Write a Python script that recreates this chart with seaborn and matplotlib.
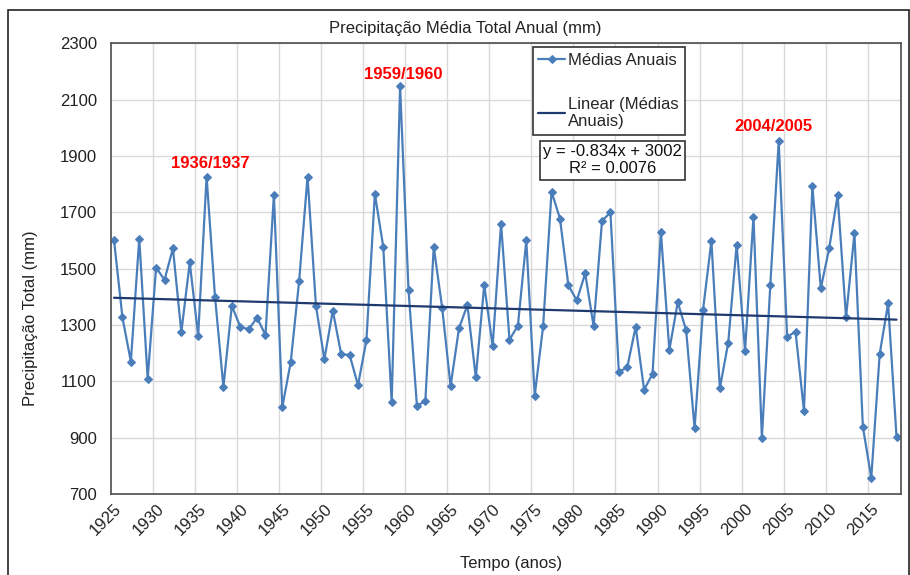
import numpy as np
import pandas as pd
import matplotlib
matplotlib.use("Agg")
import matplotlib.pyplot as plt
from matplotlib.patches import Rectangle
import seaborn as sns

# ---- data ----
years = list(range(1925, 2019))
precip = [1601, 1327, 1170, 1607, 1109, 1504, 1460, 1572, 1274, 1522,
          1262, 1827, 1401, 1080, 1368, 1294, 1284, 1326, 1264, 1761,
          1008, 1168, 1456, 1827, 1368, 1178, 1351, 1196, 1194, 1086,
          1247, 1766, 1577, 1027, 2147, 1425, 1013, 1030, 1577, 1361,
          1083, 1288, 1371, 1114, 1442, 1225, 1660, 1248, 1297, 1600,
          1049, 1296, 1773, 1678, 1441, 1387, 1483, 1296, 1669, 1700,
          1133, 1150, 1294, 1070, 1126, 1630, 1211, 1381, 1281, 933,
          1353, 1598, 1075, 1237, 1585, 1209, 1684, 900, 1441, 1953,
          1258, 1276, 995, 1793, 1430, 1572, 1761, 1327, 1625, 939,
          757, 1197, 1377, 903]
trend_slope = -0.834
trend_intercept = 3002
r_squared = 0.0076
highlight_labels = ["1936/1937", "1959/1960", "2004/2005"]
highlight_x = [1936.4, 1959.4, 2003.4]
highlight_y = [1874, 2191, 2004]
xtick_years = list(range(1925, 2016, 5))
ytick_vals = list(range(700, 2301, 200))

df = pd.DataFrame({"Ano": years, "Precipitação": precip})
df["Tendência"] = trend_slope * df["Ano"] + trend_intercept

# ---- style ----
sns.set_theme(style="white")
plt.rcParams["font.family"] = ["Liberation Sans", "DejaVu Sans"]

fig = plt.figure(figsize=(9.10, 5.75), dpi=100)
ax = fig.add_axes([0.1216, 0.1409, 0.9898 - 0.1216, 0.9247 - 0.1409])

blue = "#4A7EBB"
navy = "#1F3A6E"

sns.lineplot(data=df, x="Ano", y="Precipitação", ax=ax, color=blue,
             linewidth=1.6, marker="D", markersize=3.8,
             markeredgecolor=blue, markerfacecolor=blue,
             label="Médias Anuais")
sns.lineplot(data=df, x="Ano", y="Tendência", ax=ax, color=navy,
             linewidth=1.6, label="Linear (Médias\nAnuais)")

x_left, x_right = 1924.6, 2018.5
ax.set_xlim(x_left, x_right)
ax.set_ylim(700, 2300)
ax.set_yticks(ytick_vals)
ax.set_yticklabels([str(v) for v in ytick_vals], fontsize=12)
ax.set_xticks(xtick_years)
ax.set_xticklabels([str(v) for v in xtick_years], fontsize=12,
                   rotation=45, ha="right", rotation_mode="anchor")
ax.set_xticks(np.arange(x_left + 5, x_right, 5), minor=True)

ax.grid(False)
ax.yaxis.grid(True, color="#D9D9D9", linewidth=1.0)
ax.xaxis.grid(True, which="minor", color="#D9D9D9", linewidth=1.0)
ax.tick_params(axis="both", which="both", length=0)
ax.tick_params(axis="y", pad=10, colors="#222222")
ax.tick_params(axis="x", pad=5, colors="#222222")

for s in ax.spines.values():
    s.set_color("#595959")
    s.set_linewidth(1.3)

ax.set_xlabel("Tempo (anos)", fontsize=12, color="#222222")
ax.set_ylabel("Precipitação Total (mm)", fontsize=12, color="#222222")
ax.xaxis.set_label_coords(0.507, -0.138)
ax.yaxis.set_label_coords(-0.092, 0.39)

fig.text(0.5115, 0.951, "Precipitação Média Total Anual (mm)", fontsize=12,
         ha="center", va="center", color="#222222")

for lab, xx, yy in zip(highlight_labels, highlight_x, highlight_y):
    ax.text(xx, yy, lab, color="#FF0000", fontsize=12, fontweight="bold",
            ha="center", va="center")

leg = ax.legend(loc="upper left", bbox_to_anchor=(0.534, 0.9925),
                fontsize=12, frameon=True, fancybox=False,
                edgecolor="#333333", framealpha=1, borderpad=0.35,
                labelspacing=1.75, handlelength=1.6, handletextpad=0.2,
                borderaxespad=0)
leg.get_frame().set_linewidth(1.2)

ax.text(0.635, 0.7406, f"y = {trend_slope}x + {trend_intercept}\nR² = {r_squared}",
        transform=ax.transAxes, fontsize=12, ha="center", va="center",
        multialignment="center", color="#111111",
        bbox=dict(boxstyle="square,pad=0.2", facecolor="white",
                  edgecolor="#333333", linewidth=1.2))

# outer chart border
fig.patches.append(Rectangle((8 / 910, -0.05), (909 - 8) / 910, 1 - 10 / 575 + 0.05,
                             transform=fig.transFigure, fill=False,
                             edgecolor="#222222", linewidth=1.2, clip_on=False))

fig.savefig("out.png", dpi=100)
